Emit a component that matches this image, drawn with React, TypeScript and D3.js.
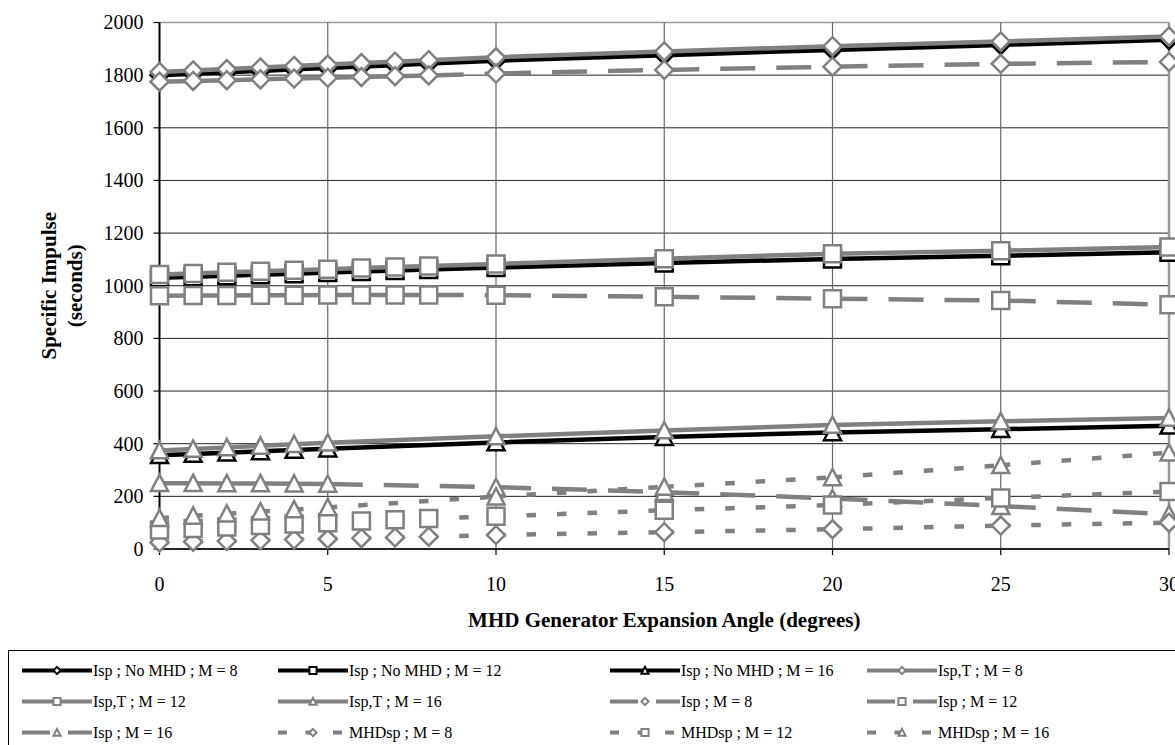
import React from 'react';
import * as d3 from 'd3';

// Expansion angles (degrees) at which each family of curves was evaluated
const anglesM8M12 = [0, 1, 2, 3, 4, 5, 6, 7, 8, 10, 15, 20, 25, 30];
const anglesM16 = [0, 1, 2, 3, 4, 5, 10, 15, 20, 25, 30];

// Specific impulse (seconds)
const ispNoMhdM8 = [1800, 1805, 1811, 1816, 1822, 1827, 1833, 1838, 1844, 1855, 1876, 1896, 1915, 1934];
const ispNoMhdM12 = [1030, 1034, 1038, 1042, 1046, 1050, 1054, 1058, 1062, 1069, 1086, 1102, 1114, 1127];
const ispNoMhdM16 = [356, 361, 366, 371, 376, 381, 405, 425, 443, 455, 468];
const ispTM8 = [1812, 1818, 1823, 1829, 1835, 1840, 1846, 1851, 1857, 1868, 1890, 1910, 1928, 1947];
const ispTM12 = [1043, 1047, 1051, 1055, 1059, 1063, 1067, 1071, 1075, 1083, 1103, 1122, 1133, 1147];
const ispTM16 = [374, 380, 386, 392, 398, 404, 428, 450, 471, 485, 498];
const ispM8 = [1775, 1778, 1781, 1784, 1787, 1790, 1793, 1796, 1799, 1806, 1820, 1832, 1843, 1850];
const ispM12 = [962, 963, 963, 964, 964, 965, 965, 965, 965, 964, 958, 951, 944, 928];
const ispM16 = [250, 250, 249, 249, 248, 247, 235, 216, 192, 163, 132];
const mhdSpM8 = [25, 28, 30, 33, 36, 38, 41, 44, 47, 53, 64, 75, 89, 100];
const mhdSpM12 = [72, 78, 84, 89, 95, 100, 106, 111, 116, 124, 147, 167, 194, 218];
const mhdSpM16 = [117, 126, 134, 142, 150, 158, 199, 236, 272, 318, 366];

const seriesLabels = [
  'Isp ; No MHD ; M = 8',
  'Isp ; No MHD ; M = 12',
  'Isp ; No MHD ; M = 16',
  'Isp,T ; M = 8',
  'Isp,T ; M = 12',
  'Isp,T ; M = 16',
  'Isp ; M = 8',
  'Isp ; M = 12',
  'Isp ; M = 16',
  'MHDsp ; M = 8',
  'MHDsp ; M = 12',
  'MHDsp ; M = 16',
];

const yTicks = [0, 200, 400, 600, 800, 1000, 1200, 1400, 1600, 1800, 2000];
const xTicks = [0, 5, 10, 15, 20, 25, 30];

type Shape = 'diamond' | 'square' | 'triangle';
type LineKind = 'black' | 'solid' | 'long' | 'short';

interface Series {
  label: string;
  xs: number[];
  ys: number[];
  kind: LineKind;
  shape: Shape;
}

const kinds: LineKind[] = ['black', 'black', 'black', 'solid', 'solid', 'solid', 'long', 'long', 'long', 'short', 'short', 'short'];
const shapes: Shape[] = ['diamond', 'square', 'triangle'];
const valueSets = [ispNoMhdM8, ispNoMhdM12, ispNoMhdM16, ispTM8, ispTM12, ispTM16, ispM8, ispM12, ispM16, mhdSpM8, mhdSpM12, mhdSpM16];

const series: Series[] = valueSets.map((ys, i) => ({
  label: seriesLabels[i],
  xs: i % 3 === 2 ? anglesM16 : anglesM8M12,
  ys,
  kind: kinds[i],
  shape: shapes[i % 3],
}));

const GRAY = '#808080';
const FONT = "'Liberation Serif', 'Times New Roman', serif";

function markerPath(shape: Shape, r: number): string {
  if (shape === 'diamond') return `M0,${-r}L${r},0L0,${r}L${-r},0Z`;
  if (shape === 'square') return `M${-r},${-r}H${r}V${r}H${-r}Z`;
  return `M0,${-r}L${r},${r * 0.92}L${-r},${r * 0.92}Z`;
}

function lineColor(kind: LineKind) {
  return kind === 'black' ? '#000' : GRAY;
}

export default function App() {
  const width = 1175;
  const height = 745;
  const plot = { left: 159.5, right: 1169, top: 22.5, bottom: 549 };

  const x = d3.scaleLinear().domain([0, 30]).range([plot.left, plot.right]);
  const y = d3.scaleLinear().domain([0, 2000]).range([plot.bottom, plot.top]);
  const line = d3.line<[number, number]>().x((d) => x(d[0])).y((d) => y(d[1]));

  const plotDash: Record<LineKind, string | undefined> = {
    black: undefined,
    solid: undefined,
    long: '35 21',
    short: '9.5 21',
  };
  const legendDash: Record<LineKind, string | undefined> = {
    black: undefined,
    solid: undefined,
    long: '28 18',
    short: '9 18.5',
  };

  // Legend layout: three rows of four entries
  const legendCols = [22, 278, 610, 867];
  const legendRows = [670.5, 701.5, 732.5];

  return (
    <div style={{ position: 'absolute', left: 0, top: 0 }}>
      <svg width={width} height={height} style={{ display: 'block', background: '#fff' }} fontFamily={FONT}>
        {/* horizontal grid */}
        {yTicks.map((t) => (
          <line key={`hy${t}`} x1={plot.left} x2={plot.right} y1={y(t)} y2={y(t)} stroke={t === 2000 ? '#999' : '#222'} strokeWidth={t === 2000 ? 1.5 : 1} />
        ))}
        {/* vertical grid */}
        {xTicks.filter((t) => t > 0).map((t) => (
          <line key={`vx${t}`} x1={x(t)} x2={x(t)} y1={plot.top} y2={plot.bottom} stroke={t === 30 ? '#999' : '#666'} strokeWidth={t === 30 ? 2.5 : 1.2} />
        ))}

        {/* axes */}
        <line x1={plot.left} x2={plot.left} y1={plot.top} y2={plot.bottom} stroke="#000" strokeWidth={2} />
        <line x1={plot.left} x2={plot.right} y1={plot.bottom} y2={plot.bottom} stroke="#000" strokeWidth={1.5} />
        {yTicks.map((t) => (
          <line key={`ty${t}`} x1={plot.left - 6} x2={plot.left} y1={y(t)} y2={y(t)} stroke="#000" strokeWidth={1.2} />
        ))}
        {xTicks.map((t) => (
          <line key={`tx${t}`} x1={x(t)} x2={x(t)} y1={plot.bottom} y2={plot.bottom + 6} stroke="#000" strokeWidth={1.2} />
        ))}
        {yTicks.map((t) => (
          <text key={`ly${t}`} x={plot.left - 16} y={y(t)} dy="0.34em" textAnchor="end" fontSize={20} fill="#000">
            {t}
          </text>
        ))}
        {xTicks.map((t) => (
          <text key={`lx${t}`} x={x(t)} y={591} textAnchor="middle" fontSize={20} fill="#000">
            {t}
          </text>
        ))}

        {/* axis titles */}
        <text x={(plot.left + plot.right) / 2} y={627} textAnchor="middle" fontSize={21} fontWeight="bold">
          MHD Generator Expansion Angle (degrees)
        </text>
        <g transform={`translate(56, ${(plot.top + plot.bottom) / 2}) rotate(-90)`}>
          <text x={0} y={0} textAnchor="middle" fontSize={21} fontWeight="bold">Specific Impulse</text>
          <text x={0} y={26} textAnchor="middle" fontSize={21} fontWeight="bold">(seconds)</text>
        </g>

        {/* series: line first, then markers */}
        {series.map((s, si) => {
          const pts: [number, number][] = s.xs.map((xv, i) => [xv, s.ys[i]]);
          const color = lineColor(s.kind);
          const dash = plotDash[s.kind];
          return (
            <g key={`s${si}`}>
              {dash
                ? pts.slice(1).map((p, i) => (
                    <path key={i} d={line([pts[i], p]) || ''} fill="none" stroke={color} strokeWidth={4.5} strokeDasharray={dash} />
                  ))
                : <path d={line(pts) || ''} fill="none" stroke={color} strokeWidth={4.5} strokeLinejoin="round" />}
              {pts.map((p, i) => (
                <path
                  key={`m${i}`}
                  d={markerPath(s.shape, s.shape === 'diamond' ? 9 : 8.5)}
                  transform={`translate(${x(p[0])},${y(p[1])})`}
                  fill="#fff"
                  stroke={color}
                  strokeWidth={2.5}
                />
              ))}
            </g>
          );
        })}

        {/* legend */}
        <rect x={8.5} y={650.5} width={1200} height={120} fill="#fff" stroke="#000" strokeWidth={1} />
        {series.map((s, i) => {
          const cx = legendCols[i % 4];
          const cy = legendRows[Math.floor(i / 4)];
          const color = lineColor(s.kind);
          return (
            <g key={`lg${i}`}>
              <line x1={cx} x2={cx + 70} y1={cy} y2={cy} stroke={color} strokeWidth={4} strokeDasharray={legendDash[s.kind]} />
              <path d={markerPath(s.shape, 3.6)} transform={`translate(${cx + 35},${cy})`} fill="#fff" stroke={color} strokeWidth={2} />
              <text x={cx + 71} y={cy + 5.5} fontSize={16} fill="#000">{s.label}</text>
            </g>
          );
        })}
      </svg>
    </div>
  );
}
